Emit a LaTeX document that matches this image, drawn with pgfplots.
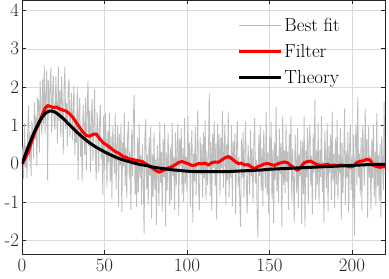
\documentclass[border=0pt]{standalone}
\usepackage{fontspec}
\usepackage{pgfplots}
\pgfplotsset{compat=1.18}
\usepackage{pgfplotstable}
\usetikzlibrary{calc}
\definecolor{fitgray}{rgb}{0.74,0.74,0.74}
\pgfplotstableread[row sep=\\, header=false]{
0\\0.45\\-0.4\\1.06\\-0.09\\0.46\\-0.38\\0.97\\1.52\\0.07\\0.83\\-0.32\\1.13\\0.78\\0.14\\1.59\\0.64\\1.29\\-0.05\\1.7\\
1.65\\0.3\\2.15\\1.4\\0.75\\2.2\\1.03\\2.56\\0.79\\1.82\\2.45\\-0.43\\2.18\\1.29\\2.0\\2.5\\0.8\\1.8\\2.3\\1.09\\
0.88\\2.27\\1.56\\0.55\\2.54\\1.12\\1.91\\0.7\\2.28\\1.57\\0.26\\1.95\\2.53\\0.91\\1.59\\0.47\\1.95\\2.22\\0.7\\1.27\\
1.85\\0.62\\1.39\\2.05\\0.22\\1.18\\0.55\\2.01\\-0.42\\1.35\\1.72\\0.19\\0.87\\-0.45\\1.54\\1.03\\0.23\\1.73\\-0.16\\1.35\\
2.16\\0.47\\1.38\\-0.22\\1.19\\1.68\\0.07\\0.95\\1.93\\0.2\\-0.43\\1.34\\0.91\\-0.22\\1.06\\1.54\\0.12\\0.6\\-0.82\\1.26\\
-0.16\\1.32\\0.6\\-0.62\\0.86\\0.04\\1.33\\-0.48\\0.71\\-0.9\\0.98\\0.36\\-0.25\\1.33\\-0.68\\0.51\\1.0\\-1.11\\0.78\\-0.03\\
1.06\\-1.25\\0.55\\-0.06\\1.34\\-0.57\\0.43\\-0.88\\0.72\\1.11\\-0.39\\0.3\\-1.2\\0.89\\-0.31\\1.19\\1.8\\-0.82\\-0.02\\-1.13\\
0.67\\-0.74\\1.05\\-0.36\\0.23\\-1.08\\0.51\\-0.3\\-1.81\\0.68\\1.17\\-0.65\\0.24\\-1.08\\0.71\\-0.3\\0.98\\-1.43\\0.25\\-0.86\\
0.83\\-0.68\\0.11\\-1.6\\0.49\\-0.01\\-1.11\\1.1\\-0.49\\0.32\\-1.26\\0.65\\-0.34\\1.07\\-1.62\\0.29\\-0.7\\0.81\\0.01\\-1.08\\
0.43\\-0.95\\1.06\\-0.32\\0.19\\-1.2\\0.82\\-0.57\\0.34\\1.05\\-1.35\\0.65\\-0.06\\0.93\\-0.78\\0.41\\-1.0\\1.2\\-0.51\\0.18\\
-0.73\\1.26\\-0.24\\0.57\\-1.12\\0.39\\0.88\\-1.53\\0.26\\-0.44\\0.97\\-0.82\\0.19\\1.4\\-0.6\\-1.2\\0.7\\-0.29\\0.51\\-0.88\\
0.82\\-0.37\\1.13\\-0.96\\0.34\\-0.55\\0.25\\1.86\\-0.84\\0.57\\-1.22\\0.79\\-0.1\\1.11\\-0.58\\0.53\\-1.46\\1.05\\-0.14\\0.77\\
-0.83\\0.68\\-0.12\\1.38\\-0.63\\0.26\\1.04\\-1.08\\0.5\\-0.42\\1.36\\-0.86\\0.23\\-0.38\\1.01\\-1.1\\0.6\\-0.2\\0.79\\-1.31\\
0.4\\1.1\\-0.61\\0.18\\-1.03\\-1.64\\0.65\\-0.36\\0.83\\-0.88\\0.22\\1.11\\-0.59\\-1.3\\0.5\\0\\-0.81\\0.89\\-0.32\\0.38\\
-1.02\\0.48\\1.19\\-0.5\\0.11\\-1.27\\-1.91\\0.76\\-0.32\\0.99\\-0.7\\0.4\\-1.11\\0.88\\0.07\\-0.64\\1.37\\-0.82\\0.29\\-1.3\\
0.7\\-0.2\\1.09\\-0.92\\0.37\\-1.54\\0.56\\-0.43\\1.48\\-0.71\\0.2\\-0.99\\0.92\\-0.27\\0.54\\-1.65\\1.25\\-0.55\\0.35\\-0.76\\
1.04\\-0.47\\0.32\\-1.2\\0.78\\-0.14\\1.24\\-0.98\\0.4\\-0.42\\-1.54\\0.75\\0.04\\-0.77\\0.93\\-1.16\\0.26\\-0.32\\0.61\\-1.56\\
0.58\\-0.79\\1.24\\-1.65\\0.35\\-0.35\\0.95\\-1.06\\0.53\\1.02\\-0.59\\0.2\\-1.31\\0.78\\-0.23\\1.67\\-0.94\\0.36\\-0.54\\1.06\\
-1.04\\0.36\\-0.34\\1.26\\-0.74\\0.06\\-1.54\\0.86\\0.16\\-0.64\\1.06\\-1.24\\0.46\\-0.24\\0.76\\-0.94\\1.36\\-0.44\\0.26\\-1.14\\
0.66\\-0.54\\1.15\\-0.95\\0.25\\-0.25\\0.94\\-1.46\\0.54\\-0.76\\0.14\\1.44\\-1.07\\0.33\\-0.37\\0.83\\-1.28\\0.42\\1.02\\-0.68\\
0.22\\-1.16\\0.76\\-1.87\\0.5\\1.02\\-0.56\\1.75\\-0.34\\0.27\\-0.82\\0.69\\-1.2\\1.01\\0.22\\-0.57\\1.44\\-0.06\\0.63\\-1.4\\
0.97\\-0.36\\0.21\\-1.22\\0.65\\-0.37\\1.02\\-0.88\\0.32\\-1.08\\1.32\\-0.58\\0.22\\-0.98\\0.52\\-1.38\\0.72\\0.02\\-0.68\\1.62\\
-0.3\\
}\noisy
\begin{document}
\begin{tikzpicture}
\begin{axis}[
  scale only axis, width=363bp, height=253.5bp,
  xmin=0, xmax=220, ymin=-2.35, ymax=4.26,
  xtick={0,50,100,150,200}, ytick={-2,-1,0,1,2,3,4},
  grid=major, major grid style={black!14, line width=0.6bp},
  axis line style={black!85, line width=0.8bp},
  tick style={black!85, line width=0.8bp},
  tick align=inside, major tick length=4bp,
  /pgf/number format/assume math mode=true,
  tick label style={font=\fontsize{19}{22}\selectfont, text=black!85},
  xticklabel style={yshift=-1bp},
  yticklabel style={xshift=0.5bp},
  legend style={draw=none, fill=none, at={(rel axis cs:0.593,0.94)}, anchor=north west,
    font=\fontsize{19}{22}\selectfont, inner sep=0pt, row sep=7.5bp},
  legend cell align=left,
  legend image code/.code={\draw[#1] (0bp,0bp) -- (42bp,0bp);},
]
\addplot[fitgray, line width=0.85bp] table[x expr=\coordindex*0.5, y index=0] {\noisy};
\addlegendentry{Best fit}
\addplot[red, line width=3bp, line join=round] coordinates {
(0,0) (2,0.15) (4,0.33) (6,0.6) (8,0.85) (10,1.02) (12,1.25) (14,1.45) (15.5,1.52) (17,1.5)
(19,1.47) (21,1.48) (23,1.43) (25,1.4) (27,1.37) (29,1.3) (31,1.2) (33,1.07) (35,0.95) (37,0.82)
(39,0.74) (41,0.72) (43,0.77) (45,0.78) (47,0.66) (49,0.56) (51,0.5) (53,0.44) (55,0.37) (57,0.31)
(59,0.27) (61,0.2) (63,0.17) (65,0.13) (67,0.12) (69,0.09) (71,0.08) (73,0.06) (75,0.0) (77,-0.05)
(79,-0.11) (81,-0.17) (83,-0.22) (85,-0.18) (87,-0.14) (89,-0.1) (91,-0.07) (93,-0.02) (95,0.04) (97,0.06)
(99,0.03) (101,0.0) (103,-0.04) (105,-0.03) (107,0.01) (109,0.0) (111,0.02) (113,-0.03) (115,0.03) (117,0.05)
(119,0.04) (121,0.1) (123,0.16) (125,0.19) (127,0.14) (129,0.07) (131,0.01) (133,0.02) (135,-0.03) (137,-0.02)
(139,-0.08) (141,-0.12) (143,-0.07) (145,-0.04) (147,0.0) (149,0.01) (151,-0.02) (153,-0.04) (155,0.0) (157,0.03)
(159,0.05) (161,0.03) (163,-0.05) (165,-0.1) (167,-0.17) (169,-0.08) (171,0.03) (173,0.06) (175,0.07) (177,0.02)
(179,-0.02) (181,-0.04) (183,-0.03) (185,-0.01) (187,-0.04) (189,-0.03) (191,-0.05) (193,-0.03) (195,-0.04) (197,-0.06)
(199,-0.08) (201,-0.06) (203,0.04) (205,0.07) (207,0.08) (209,0.12) (211,0.1) (213,-0.04) (215,-0.07) (217,-0.09)
(219,-0.07) (220,-0.08)
};
\addlegendentry{Filter}
\addplot[black, line width=3bp, smooth] coordinates {
(0,0) (2,0.24) (4,0.47) (6,0.68) (8,0.88) (10,1.06) (12,1.2) (14,1.31) (16,1.37) (18,1.38)
(20,1.35) (22,1.29) (24,1.22) (26,1.14) (28,1.05) (30,0.97) (32,0.88) (34,0.8) (36,0.72) (38,0.65)
(40,0.58) (44,0.46) (48,0.36) (52,0.27) (56,0.19) (60,0.12) (64,0.07) (68,0.02) (72,-0.02) (76,-0.05)
(80,-0.09) (85,-0.12) (90,-0.15) (95,-0.17) (100,-0.19) (105,-0.2) (110,-0.2) (115,-0.2) (120,-0.2) (125,-0.2)
(130,-0.19) (135,-0.18) (140,-0.17) (145,-0.16) (150,-0.14) (160,-0.12) (170,-0.1) (180,-0.08) (190,-0.06) (200,-0.04)
(210,-0.02) (220,-0.01)
};
\addlegendentry{Theory}
\end{axis}
\pgfresetboundingbox
\path ($(current axis.south west)+(-22bp,-25bp)$) rectangle ($(current axis.north east)+(4bp,0.5bp)$);
\end{tikzpicture}
\end{document}
